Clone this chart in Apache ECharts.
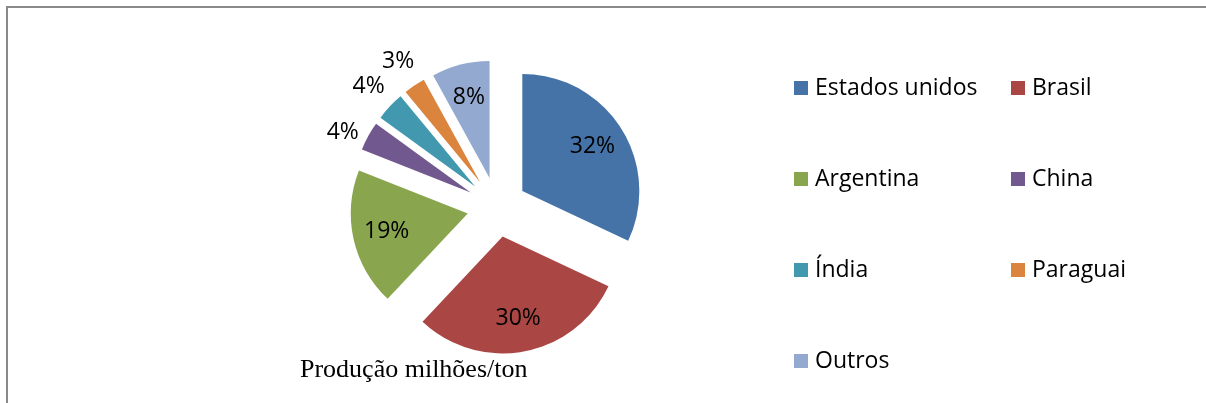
<!DOCTYPE html>
<html>
<head>
<meta charset="utf-8">
<script src="https://cdn.jsdelivr.net/npm/echarts@6/dist/echarts.min.js"></script>
<style>
    html, body { margin: 0; padding: 0; background: #fff; overflow: hidden; }
    #chart { position: absolute; left: 0; top: 0; width: 1206px; height: 403px; }
</style>
</head>
<body>
<div id="chart"></div>
<script>
var paises = ['Estados unidos', 'Brasil', 'Argentina', 'China', 'Índia', 'Paraguai', 'Outros'];
var producao = [32, 30, 19, 4, 4, 3, 8];
var cores = ['#4572A7', '#AA4643', '#89A54E', '#71588F', '#4198AF', '#DB843D', '#93A9CF'];
var legendaCol1 = ['Estados unidos', 'Argentina', 'Índia', 'Outros'];
var legendaCol2 = ['Brasil', 'China', 'Paraguai'];

var chartDom = document.getElementById('chart');
var myChart = echarts.init(chartDom);

var centro = [497, 207];
var fonte = '"Open Sans", sans-serif';

// monta os dados de cada serie (todas as fatias destacadas)
function dados(tipo) {
    return paises.map(function (nome, i) {
        var item = {
            name: nome,
            value: producao[i],
            selected: true,
            itemStyle: { color: tipo === 'pie' ? cores[i] : 'transparent' }
        };
        if (tipo === 'dentro') item.label = { show: producao[i] >= 5 };
        if (tipo === 'fora') item.label = { show: producao[i] < 5 };
        return item;
    });
}

var baseSerie = {
    type: 'pie',
    center: centro,
    selectedMode: 'multiple',
    selectedOffset: 30,
    percentPrecision: 0,
    avoidLabelOverlap: false,
    silent: true,
    animation: false,
    emphasis: { disabled: true },
    select: { itemStyle: { borderWidth: 0 } },
    labelLine: { show: false },
    labelLayout: { hideOverlap: false }
};

var rotulo = {
    position: 'inside',
    formatter: '{d}%',
    fontFamily: fonte,
    fontSize: 23,
    color: '#000'
};

var legendaBase = {
    orient: 'vertical',
    top: 70,
    itemWidth: 14,
    itemHeight: 14,
    itemGap: 65,
    icon: 'rect',
    selectedMode: false,
    textStyle: { fontFamily: fonte, fontSize: 23, color: '#000', lineHeight: 26, padding: [0, 0, 0, 2] }
};

var option = {
    backgroundColor: 'transparent',
    color: cores,
    graphic: [{
        type: 'polyline',
        silent: true,
        shape: { points: [[7, 403], [7, 7], [1206, 7]] },
        style: { stroke: '#8a8a8a', lineWidth: 2, fill: null }
    }],
    title: {
        text: 'Produção milhões/ton',
        left: 295,
        top: 352,
        textStyle: {
            fontFamily: '"Liberation Serif", serif',
            fontSize: 26,
            fontWeight: 'normal',
            color: '#000'
        }
    },
    legend: [
        Object.assign({}, legendaBase, { left: 789, data: legendaCol1 }),
        Object.assign({}, legendaBase, { left: 1006, data: legendaCol2 })
    ],
    series: [
        Object.assign({}, baseSerie, {
            name: 'producao',
            radius: [0, 117],
            label: { show: false },
            data: dados('pie')
        }),
        Object.assign({}, baseSerie, {
            name: 'rotulos-dentro',
            radius: [43, 117],
            label: rotulo,
            data: dados('dentro')
        }),
        Object.assign({}, baseSerie, {
            name: 'rotulos-fora',
            radius: [130, 156],
            label: rotulo,
            data: dados('fora'),
            // rotulo da China fica um pouco mais baixo no original
            labelLayout: function (params) {
                return { hideOverlap: false, dy: params.dataIndex === 3 ? 10 : 0 };
            }
        })
    ]
};

option && myChart.setOption(option);
</script>
</body>
</html>
